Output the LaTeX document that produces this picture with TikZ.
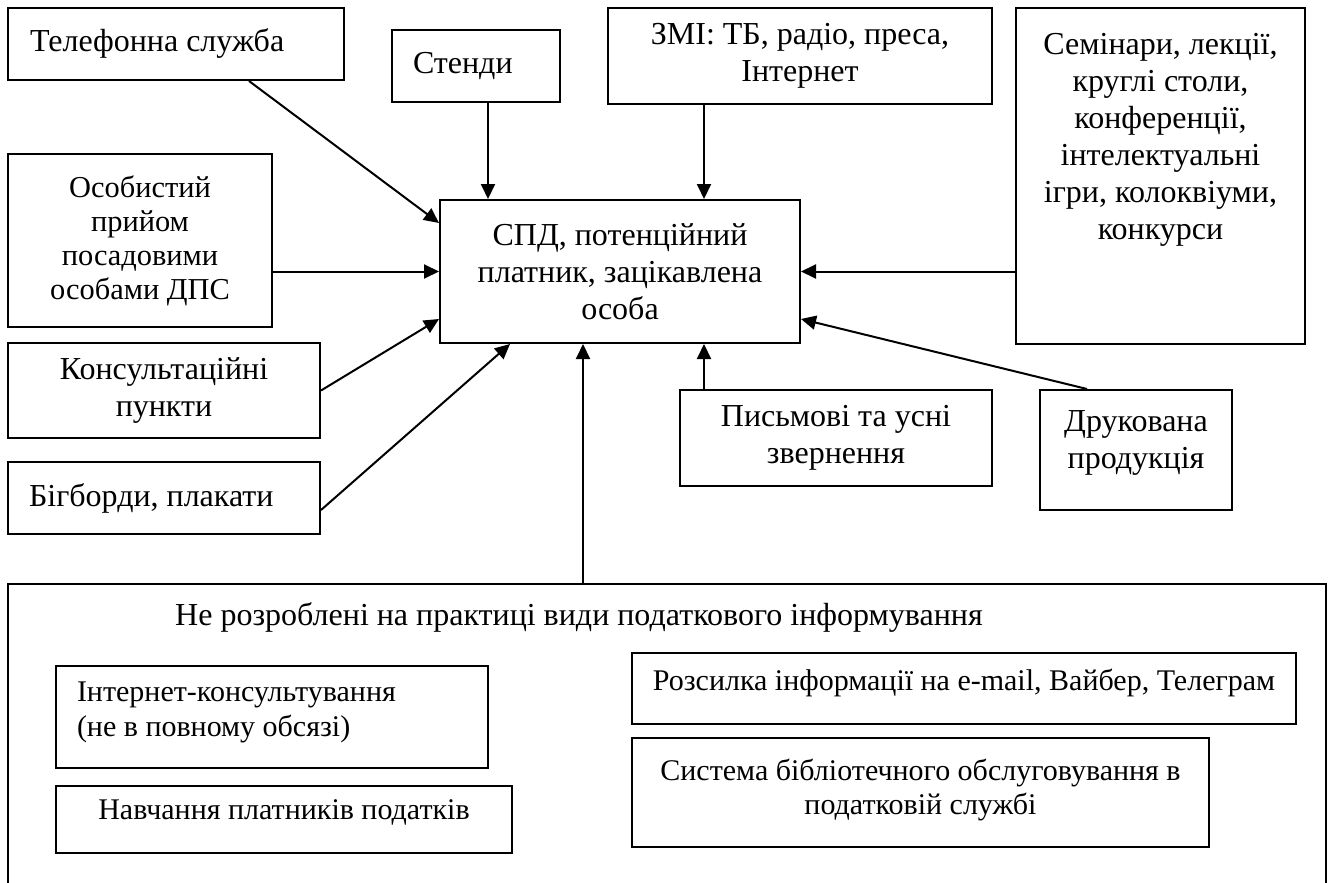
\documentclass[tikz,border=0pt]{standalone}
\usepackage{fontspec}
\setmainfont{Liberation Serif}
\usetikzlibrary{arrows.meta}

% text pinned to the top of a box
\newcommand{\topbox}[3]{\parbox[c][#1][t]{#2}{#3}}

\begin{document}
\begin{tikzpicture}[x=0.5pt, y=-0.5pt, line width=1pt,
  every node/.style={font=\fontsize{16pt}{18.5pt}\selectfont},
  box/.style={draw, rectangle, inner sep=0pt, align=center},
  small/.style={font=\fontsize{15pt}{17.2pt}\selectfont},
  arr/.style={-{Triangle[length=7.5pt,width=7pt]}}]

\useasboundingbox (0,0) rectangle (1333,883);
\clip (0,0) rectangle (1333,883);

% upper part
\node[box, minimum width=168pt, minimum height=36pt, text width=146pt, align=flush left] (tel) at (176,44) {Телефонна служба};
\node[box, minimum width=84pt, minimum height=36pt, text width=63pt, align=flush left] (stendy) at (476,66) {Стенди};
\node[box, minimum width=192pt, minimum height=48pt] (zmi) at (800,56) {ЗМІ: ТБ, радіо, преса,\\Інтернет};
\node[box, minimum width=144.5pt, minimum height=168pt] (sem) at (1160.5,176)
  {\topbox{143pt}{140pt}{\centering Семінари, лекції,\\круглі столи,\\конференції,\\інтелектуальні\\ігри, колоквіуми,\\конкурси}};

\node[box, minimum width=180pt, minimum height=71.5pt] (spd) at (620,271.5) {СПД, потенційний\\платник, зацікавлена\\особа};

\node[box, font=\fontsize{15.2pt}{17pt}\selectfont, minimum width=132pt, minimum height=86.5pt] (osob) at (140,240.5) {Особистий\\прийом\\посадовими\\особами ДПС};
\node[box, minimum width=156pt, minimum height=47.5pt] (kons) at (164,390.5) {Консультаційні\\пункти};
\node[box, minimum width=156pt, minimum height=36pt, text width=135pt, align=flush left] (big) at (164,498) {Бігборди, плакати};

\node[box, minimum width=156pt, minimum height=48pt] (pysm) at (836,438) {Письмові та усні\\звернення};
\node[box, minimum width=96pt, minimum height=60pt] (druk) at (1136,450)
  {\topbox{39pt}{90pt}{\centering Друкована\\продукція}};

% lower part
\node[box, minimum width=659pt, minimum height=300pt] (outer) at (667,884) {};
\node (head) at (579,617) {Не розроблені на практиці види податкового інформування};

\node[box, small, minimum width=216pt, minimum height=51pt] (inet) at (272,717)
  {\topbox{35pt}{195pt}{\raggedright Інтернет-консультування\\(не в повному обсязі)}};
\node[box, small, minimum width=228pt, minimum height=33.5pt] (navch) at (284,819.5)
  {\topbox{19.5pt}{220pt}{\centering Навчання платників податків}};
\node[box, small, minimum width=332pt, minimum height=35.5pt] (rozs) at (964,688.5)
  {\topbox{19.5pt}{320pt}{\centering Розсилка інформації на e-mail, Вайбер, Телеграм}};
\node[box, small, minimum width=288.5pt, minimum height=54.5pt] (syst) at (920.5,792.5)
  {\topbox{33.5pt}{280pt}{\centering Система бібліотечного обслуговування в\\податковій службі}};

% arrows
\draw[arr] ([xshift=36.5pt]tel.south) -- ([yshift=24.25pt]spd.west);
\draw[arr] ([xshift=6pt]stendy.south) -- ([xshift=6pt]stendy.south |- spd.north);
\draw[arr] ([xshift=-48pt]zmi.south) -- ([xshift=-48pt]zmi.south |- spd.north);
\draw[arr] (sem.west |- spd.east) -- (spd.east);
\draw[arr] (osob.east |- spd.west) -- (spd.west);
\draw[arr] (kons.east) -- ([yshift=-23.75pt]spd.west);
\draw[arr] ([yshift=-6pt]big.east) -- ([xshift=-55pt]spd.south);
\draw[arr] ([xshift=-18.5pt]spd.south |- outer.north) -- ([xshift=-18.5pt]spd.south);
\draw[arr] ([xshift=-66pt]pysm.north) -- ([xshift=-66pt]pysm.north |- spd.south);
\draw[arr] ([xshift=-24.5pt]druk.north) -- ([yshift=-23.75pt]spd.east);

\end{tikzpicture}
\end{document}
